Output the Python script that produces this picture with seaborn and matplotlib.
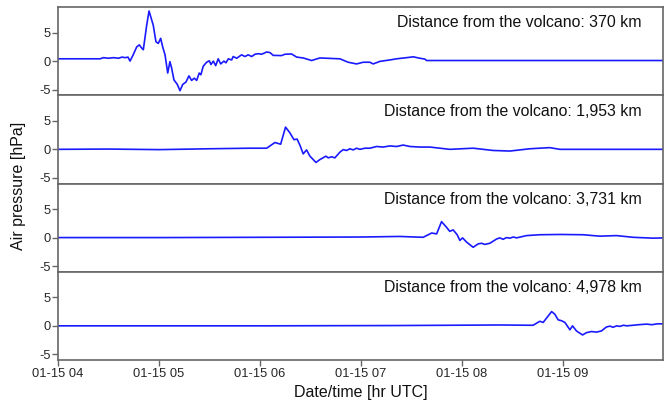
import matplotlib
matplotlib.use("Agg")
import matplotlib.pyplot as plt
import matplotlib.dates as mdates
import seaborn as sns
import pandas as pd
import numpy as np

# ---- data: minutes after 2022-01-15 04:00 UTC, air pressure anomaly [hPa]
t1 = [0, 25, 27, 30, 33, 36, 38, 40, 41.6, 42.8, 44.5, 46.8, 48.3, 49.7, 50.7, 52.7, 54.1, 55.7, 56.6,
      58.2, 59.6, 61.0, 62.2, 63.6, 65.2, 66.5, 67.5, 68.9, 70.9, 72.5, 74.1, 76.0, 77.8, 79.4, 81.0,
      82.4, 83.9, 84.9, 86.3, 88.3, 89.9, 90.9, 92.3, 93.7, 95.2, 96.7, 98.6, 99.8, 101.2, 103.2, 104.1,
      106.2, 109.1, 111.1, 113.0, 115.1, 117.0, 119.0, 121, 124.0, 125.9, 127.9, 132.9, 134.8, 138.8,
      141.8, 145.7, 150.7, 155.6, 163.5, 167.5, 172.4, 177.4, 181.4, 185.3, 187.3, 191.3, 197.2, 201.2,
      207.1, 211.1, 215.0, 218.0, 219.0, 360]
p1 = [0.4, 0.4, 0.6, 0.5, 0.6, 0.5, 0.7, 0.6, 0.7, 0.0, 1.0, 2.5, 2.85, 2.3, 2.0, 6.3, 8.8, 7.2, 6.3,
      3.4, 3.1, 4.0, 2.5, 1.1, -2.1, -0.1, -1.2, -3.3, -4.1, -5.2, -4.1, -3.7, -2.6, -3.4, -3.0,
      -3.4, -2.1, -2.4, -0.9, -0.2, 0.05, -0.6, 0.0, -0.8, 0.4, -0.5, 0.0, -0.3, 0.4, 0.2, 0.8,
      0.5, 1.1, 0.8, 1.1, 0.8, 1.2, 1.3, 1.2, 1.6, 1.5, 1.0, 0.97, 1.2, 1.25,
      0.7, 0.55, 0.1, 0.55, 0.45, 0.4, -0.2, -0.5, -0.2, -0.2, -0.5, -0.05, 0.2, 0.4,
      0.6, 0.75, 0.5, 0.35, 0.1, 0.1]

t2 = [0, 30, 60, 90, 114, 124, 128.9, 132.3, 135.2, 137.8, 140.2, 142.1, 143.8, 145.7, 147.7, 149.7,
      153.3, 155.6, 159.2, 160.6, 162.6, 164.5, 167.5, 169.5, 171.5, 173.4, 175.4, 177.4, 179.4, 182.4,
      185.3, 189.3, 193.2, 197.2, 201.2, 205.1, 209.1, 215, 221, 226.9, 232.8, 246.7, 258.6, 268.5,
      280.4, 292.2, 298.2, 360]
p2 = [0.0, 0.05, -0.05, 0.1, 0.2, 0.2, 1.2, 0.9, 3.9, 2.9, 1.7, 1.8, 0.7, -0.8, -0.1, -1.2,
      -2.3, -1.8, -1.2, -1.5, -1.3, -1.5, -0.5, -0.05, -0.2, 0.1, -0.1, 0.2, 0.0, 0.2,
      0.2, 0.5, 0.4, 0.6, 0.5, 0.75, 0.5, 0.4, 0.4, 0.2, 0.0, 0.2, -0.2, -0.3,
      0.1, 0.3, 0.0, 0.0]

t3 = [0, 60, 120, 180, 203.1, 217, 222, 225, 227.9, 230.9, 232.8, 234.8, 237.2, 238.8, 240.4, 242.8,
      246.7, 249.7, 251.7, 253.6, 256.6, 260.6, 262.5, 264.5, 266.5, 268.5, 270.5, 272.5, 278.4, 286.3,
      298.2, 312, 322, 331.9, 341.7, 353.6, 360]
p3 = [0.0, 0.0, 0.05, 0.1, 0.2, 0.05, 0.8, 0.65, 2.8, 1.8, 1.1, 1.35, 0.5, -0.5, -0.05, -0.8,
      -1.7, -1.1, -1.0, -1.2, -1.0, -0.25, -0.05, -0.3, 0.0, -0.1, 0.1, -0.05, 0.35, 0.5,
      0.55, 0.5, 0.25, 0.35, 0.05, -0.1, -0.05]

t4 = [0, 120, 200, 262.5, 282.3, 286.3, 288.3, 293.3, 295.2, 297.2, 299.2, 301.2, 304.2, 305.7, 308.1,
      311.7, 314, 317, 320, 322.9, 325.9, 328, 329.8, 332, 333.8, 336, 338, 341.7, 345, 349.7, 353, 356,
      360]
p4 = [0.0, 0.0, 0.05, 0.15, 0.1, 0.8, 0.6, 2.5, 2.05, 1.05, 0.9, 0.6, -0.7, 0.0, -0.9,
      -1.6, -1.2, -1.0, -1.1, -0.9, -0.2, -0.05, -0.25, 0.0, -0.1, 0.1, 0.0, 0.1, 0.2, 0.3, 0.2, 0.35,
      0.35]

labels = ["Distance from the volcano: 370 km",
          "Distance from the volcano: 1,953 km",
          "Distance from the volcano: 3,731 km",
          "Distance from the volcano: 4,978 km"]
yticks = [-5, 0, 5]

# ---- styling
sns.set_style("white")
plt.rcParams["font.family"] = ["Liberation Sans", "DejaVu Sans"]
plt.rcParams["axes.unicode_minus"] = False

base = pd.Timestamp("2022-01-15 04:00")
series = [(t1, p1), (t2, p2), (t3, p3), (t4, p4)]

fig = plt.figure(figsize=(6.72, 4.04), dpi=100)
axes = fig.subplots(4, 1, sharex=True)
fig.subplots_adjust(left=58 / 672, right=663 / 672, top=1 - 7 / 404, bottom=1 - 360 / 404, hspace=0)

spine_c = "#666666"
for ax, (t, p), lab in zip(axes, series, labels):
    df = pd.DataFrame({"time": base + pd.to_timedelta(np.array(t), unit="m"), "p": p})
    sns.lineplot(data=df, x="time", y="p", ax=ax, color="#1a1aff", linewidth=1.2)
    ax.set_ylim(-6, 9.5)
    ax.set_yticks(yticks)
    ax.set_xlabel("")
    ax.set_ylabel("")
    for s in ax.spines.values():
        s.set_color(spine_c)
        s.set_linewidth(1.2)
    ax.tick_params(axis="y", direction="out", length=4, width=1, color=spine_c,
                   labelsize=9.3, pad=1, left=True)
    ax.tick_params(axis="x", direction="out", length=4, width=1, color=spine_c,
                   labelsize=9.3, pad=2, bottom=(ax is axes[-1]))
    ax.text(0.965, 0.82, lab, transform=ax.transAxes, ha="right", va="center",
            fontsize=11.4, color="#111111")

axes[-1].set_xlim(base, base + pd.Timedelta(minutes=359.5))
axes[-1].xaxis.set_major_locator(mdates.HourLocator())
axes[-1].xaxis.set_major_formatter(mdates.DateFormatter("%m-%d %H"))

fig.text(0.027, 1 - 186 / 404, "Air pressure [hPa]", rotation=90, ha="center", va="center",
         fontsize=11.5, color="#111111")
fig.text((58 + 663) / 2 / 672, 1 - 393 / 404, "Date/time [hr UTC]", ha="center", va="center",
         fontsize=11.5, color="#111111")

fig.savefig("out.png", dpi=100)
